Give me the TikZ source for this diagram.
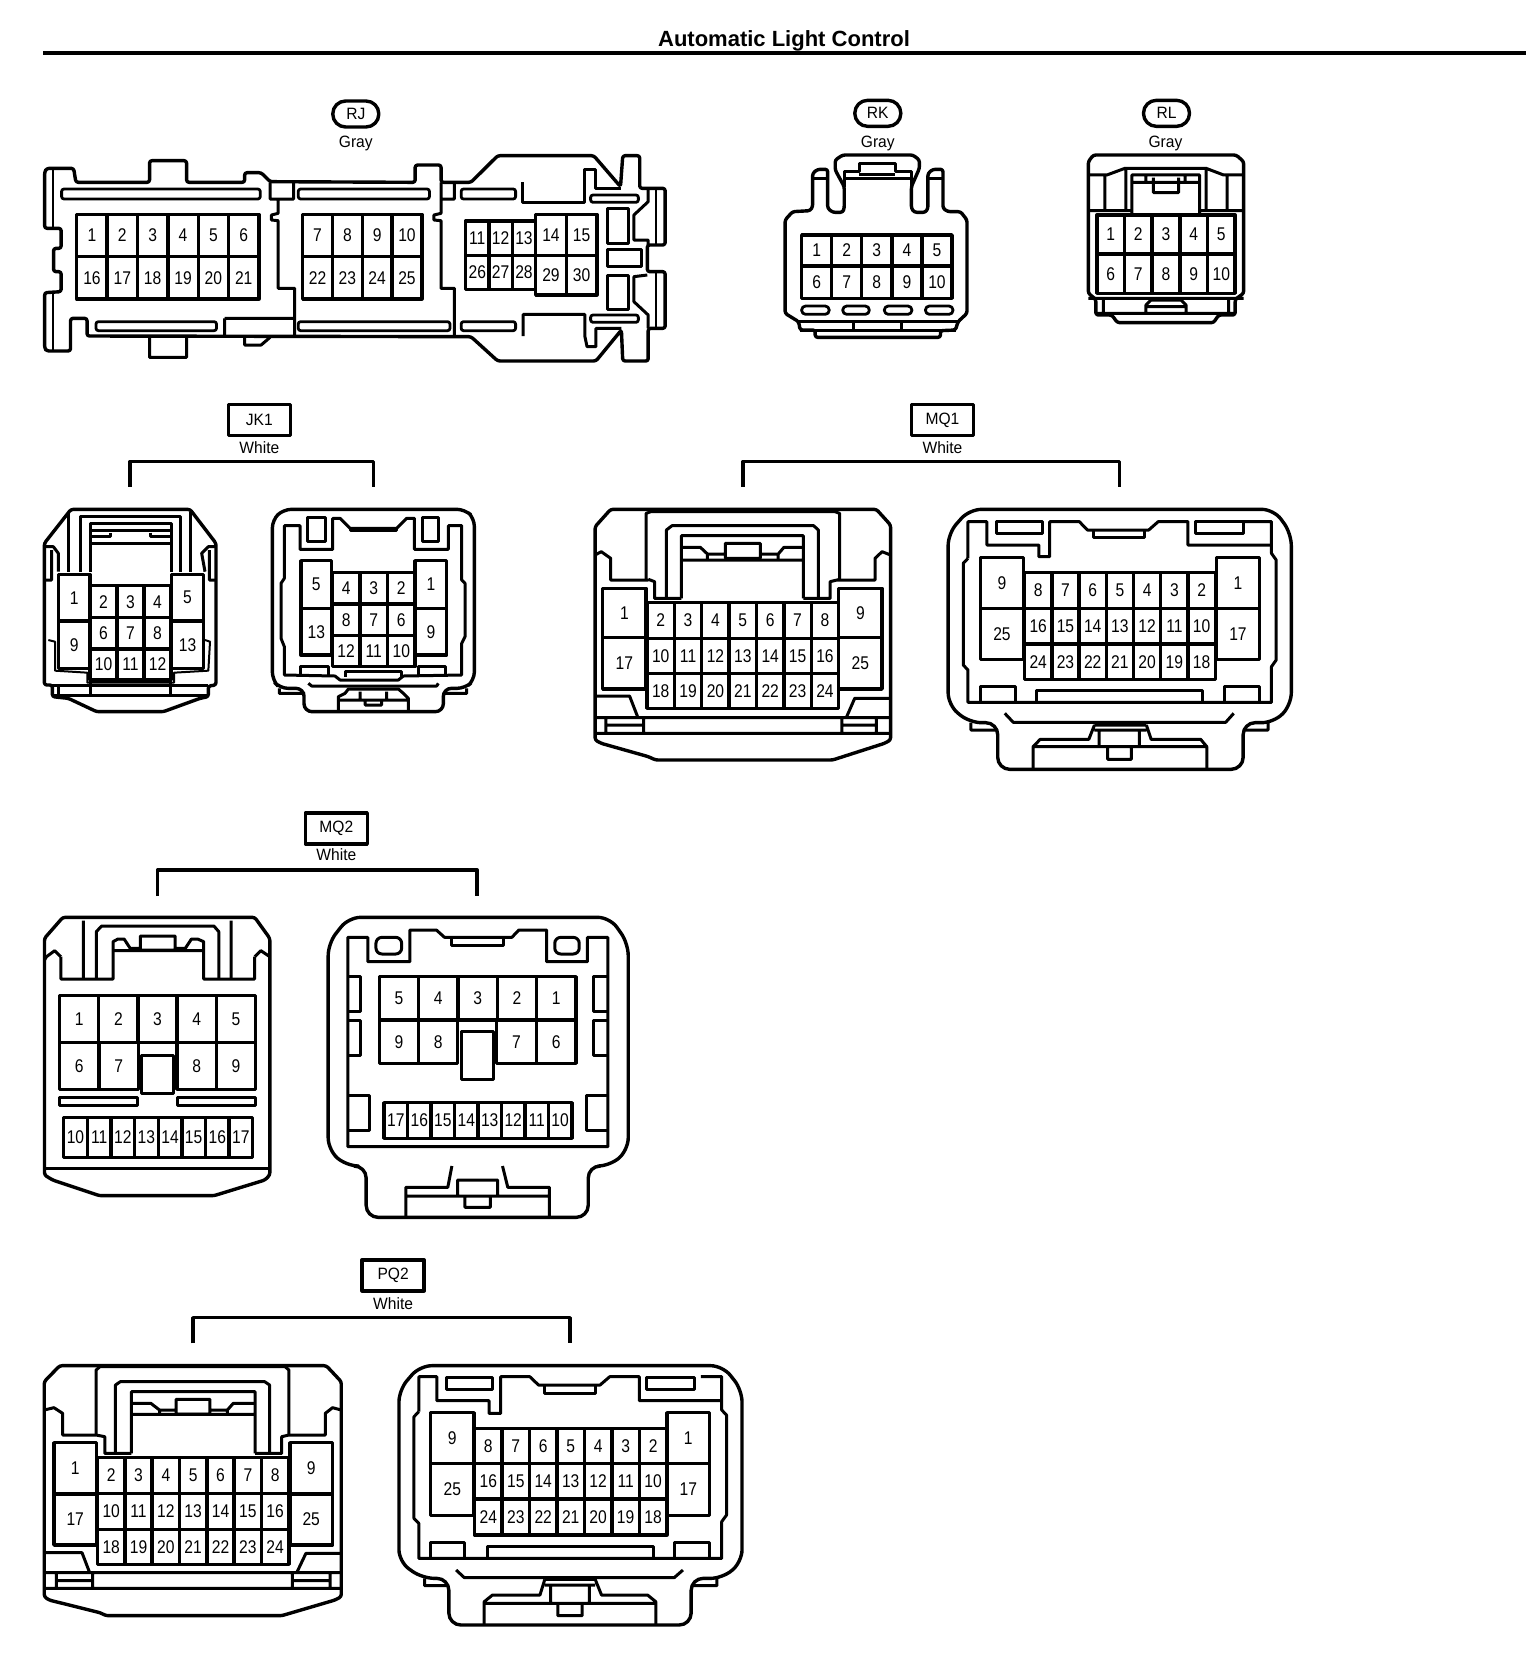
\documentclass[tikz,border=0pt]{standalone}
\usepackage{fontspec}
\setmainfont{Liberation Sans}
\newfontfamily\pinfont[FakeStretch=0.85]{Liberation Sans}
\newfontfamily\lblfont[FakeStretch=0.95]{Liberation Sans}
\tikzset{
  zoomview/.style n args={3}{shift={(#1,#2)},x=#3pt,y=-0.16667pt},
  shell/.style={line width=1.7pt,rounded corners=1.2pt},
  ln/.style={line width=1.5pt},
  thin line/.style={line width=1pt},
  cell/.style={line width=1.7pt},
  slot/.style={line width=1.4pt,rounded corners=1.2pt},
  pin/.style={font=\pinfont\fontsize{9.2}{10}\selectfont,inner sep=0pt},
  colour text/.style={font=\lblfont\fontsize{8.2}{10}\selectfont,inner sep=0pt},
  pill/.style={draw,line width=1.7pt,rounded corners=6.4pt,minimum width=23pt,minimum height=13pt,inner sep=0pt,font=\lblfont\fontsize{8.2}{10}\selectfont},
  tagbox/.style={draw,line width=1.7pt,minimum width=31pt,minimum height=15.5pt,inner sep=0pt,font=\lblfont\fontsize{8.2}{10}\selectfont},
  bracket/.style={line width=1.8pt},
}
\newcommand\rowp[6]{%
  \foreach \pl [count=\ii from 0] in {#6}{%
    \pgfmathsetmacro\xa{#4+\ii*#5}%
    \pgfmathsetmacro\xb{\xa+#5}%
    \draw[cell] (\xa,#2) rectangle (\xb,#3);
    \node[pin] (#1-\pl) at ({(\xa+\xb)/2},{(#2+#3)/2}) {\pl};
  }}
\begin{document}
\begin{tikzpicture}[x=0.5pt,y=-0.5pt,line join=round]
\useasboundingbox (0,0) rectangle (1536,1658);
\fill[white] (0,0) rectangle (1536,1658);
\node[inner sep=0pt,font=\bfseries\fontsize{11}{13}\selectfont] (title) at (784,41) {Automatic Light Control};
\coordinate (ruleL) at (43,53);
\coordinate (ruleR) at (1526,53);
\draw[line width=2.4pt] (ruleL) -- (ruleR);

% ---------- RJ
\begin{scope}[zoomview={0}{0}{.2232}]
\node[pill] (RJ) at (797,342) {RJ};
\node[colour text] (RJc) at (797,431) {Gray};
\draw[shell] (100,515)--(105,505)--(165,505)--(170,547)--(335,547)--(335,482)--(418,482)--(418,547)--(548,547)--(548,518)--(585,518)--(605,545)--(930,547)--(930,495)--(988,495)--(988,547)--(1055,547)--(1115,467)--(1330,467)--(1390,560)--(1395,467)--(1433,467)--(1433,565)--(1490,565)--(1490,735)--(1450,735)--(1450,815)--(1490,815)--(1490,985)--(1452,985)--(1452,1083)--(1395,1083)--(1392,990)--(1335,1083)--(1115,1083)--(1055,1010)--(195,1008)--(195,955)--(158,955)--(158,1053)--(105,1053)--(100,1045)--(100,878)--(137,875)--(137,815)--(120,815)--(120,745)--(137,745)--(137,685)--(100,685)--cycle;
\draw[thin line] (118,510)--(118,685) (118,880)--(118,1050) (1470,565)--(1470,735) (1470,815)--(1470,985);
\draw[ln] (335,1010)--(335,1072)--(418,1072)--(418,1010) (548,1010)--(548,1035)--(585,1035)--(605,1012);
\draw[slot] (138,567) rectangle (583,597) (668,567) rectangle (962,597) (1033,567) rectangle (1155,597) (215,965) rectangle (485,992) (668,965) rectangle (1008,992) (1033,965) rectangle (1155,992) (1323,585) rectangle (1430,607) (1323,945) rectangle (1430,967);
\draw[ln] (605,547)--(605,597)--(658,597)--(658,547) (623,597)--(623,640)--(608,645)--(608,660)--(623,662)--(623,865)--(660,865)--(660,1008) (503,955)--(660,955) (503,955)--(503,1008);
\draw[ln] (988,547)--(988,597)--(1018,597)--(1018,547) (988,597)--(988,640)--(972,645)--(972,660)--(988,662)--(988,865)--(1018,865)--(1018,1008);
\draw[ln] (1170,547)--(1170,608)--(1310,608)--(1310,507)--(1335,507)--(1335,565)--(1390,565);
\draw[ln] (1172,1008)--(1172,943)--(1310,943)--(1310,1008)--(1315,1040)--(1335,1040)--(1335,985)--(1392,985);
\draw[ln] (1360,625) rectangle (1408,730) (1360,748) rectangle (1438,800) (1360,825) rectangle (1408,928);
\draw[ln] (1452,570)--(1452,605)--(1420,645)--(1420,720)--(1452,720)--(1452,735) (1450,825)--(1420,830)--(1420,905)--(1452,945)--(1452,985);
\rowp{RJa}{643}{770}{172}{68}{1,2,3,4,5,6}
\rowp{RJa}{770}{897}{172}{68}{16,17,18,19,20,21}
\rowp{RJb}{643}{770}{678}{66.75}{7,8,9,10}
\rowp{RJb}{770}{897}{678}{66.75}{22,23,24,25}
\rowp{RJc}{663}{767}{1043}{52.3}{11,12,13}
\rowp{RJc}{767}{868}{1043}{52.3}{26,27,28}
\rowp{RJd}{643}{767}{1200}{68.5}{14,15}
\rowp{RJd}{767}{885}{1200}{68.5}{29,30}
\end{scope}

% ---------- RK
\begin{scope}[zoomview={750}{80}{.2506}]
\node[pill] (RK) at (255,100) {RK};
\node[colour text] (RKc) at (255,191) {Gray};
\draw[shell] (70,420)--(85,395)--(120,392)--(125,380)--(125,280)--(135,268)--(155,268)--(155,385)--(165,397)--(185,397)--(188,385)--(188,320)--(170,270)--(170,240)--(185,225)--(325,225)--(338,240)--(338,265)--(322,320)--(322,385)--(328,397)--(350,397)--(355,385)--(355,280)--(365,268)--(385,268)--(385,385)--(395,395)--(420,395)--(433,420)--(433,700)--(415,725)--(410,750)--(380,752)--(380,772)--(130,772)--(130,750)--(100,750)--(97,725)--(70,700)--cycle;
\draw[ln] (188,320)--(188,275)--(218,275)--(218,250)--(290,250)--(290,275)--(322,275)--(322,320) (188,297)--(322,297) (218,285)--(290,285) (125,297)--(155,297) (355,297)--(385,297);
\rowp{RKa}{465}{558}{103}{60}{1,2,3,4,5}
\rowp{RKa}{558}{655}{103}{60}{6,7,8,9,10}
\draw[slot,rounded corners=2pt] (103,678) rectangle (158,703) (185,678) rectangle (238,703) (268,678) rectangle (323,703) (350,678) rectangle (405,703);
\draw[ln] (97,725)--(415,725) (207,725)--(207,750) (302,725)--(302,750) (100,750)--(410,750);
% ---------- RL
\node[pill] (RL) at (831,100) {RL};
\node[colour text] (RLc) at (829,191) {Gray};
\draw[shell] (675,245)--(685,225)--(970,225)--(985,245)--(985,640)--(968,658)--(968,705)--(935,705)--(925,728)--(733,728)--(722,705)--(690,705)--(690,658)--(675,640)--cycle;
\draw[ln] (675,285)--(712,285)--(748,265)--(910,265)--(945,285)--(985,285) (708,290)--(708,392) (750,265)--(750,392) (952,290)--(952,392) (910,265)--(910,392) (675,392)--(762,392) (897,392)--(985,392) (762,402)--(762,285)--(897,285)--(897,402) (762,307)--(897,307) (805,293)--(805,338)--(855,338)--(855,293) (790,290)--(790,307) (868,290)--(868,307);
\rowp{RLa}{405}{522}{692}{55.2}{1,2,3,4,5}
\rowp{RLa}{522}{640}{692}{55.2}{6,7,8,9,10}
\draw[ln] (675,655)--(985,655) (705,658)--(705,705) (955,658)--(955,705) (790,700)--(790,675)--(800,660)--(860,660)--(870,675)--(870,700) (790,680)--(870,680) (690,700)--(968,700);
\end{scope}

% ---------- JK1
\begin{scope}[zoomview={0}{390}{.16667}]
\node[tagbox] (JK1) at (778,90) {JK1};
\node[colour text] (JK1c) at (778,172) {White};
\coordinate (JK1L) at (390,290); \coordinate (JK1R) at (1120,290);
\draw[bracket] (JK1L)--(390,215)--(1120,215)--(JK1R);
\draw[shell] (133,460)--(213,358)--(570,358)--(648,460)--(648,885)--(625,888)--(625,920)--(600,925)--(490,965)--(290,965)--(205,925)--(157,920)--(157,885)--(133,885)--cycle;
\draw[ln] (205,365)--(205,545) (240,545)--(240,380)--(540,380)--(540,545) (572,365)--(572,545) (270,545)--(270,400)--(515,400)--(515,545) (270,420)--(515,420) (270,440)--(330,440)--(330,428) (450,428)--(450,440)--(515,440) (270,460)--(515,460);
\draw[ln] (133,470)--(160,470)--(175,490)--(175,545) (615,545)--(605,490)--(625,470)--(648,470) (155,480)--(155,570)--(137,570) (628,480)--(628,570)--(645,570);
\draw[thin line] (145,750)--(165,755)--(165,842)--(262,848)--(262,878)--(522,878)--(522,848)--(625,842)--(630,755)--(615,750);
\rowp{JKa}{553}{693}{175}{95}{1}
\rowp{JKa}{693}{835}{175}{95}{9}
\rowp{JKa}{553}{693}{515}{95}{5}
\rowp{JKa}{693}{835}{515}{95}{13}
\rowp{JKb}{587}{683}{270}{81}{2,3,4}
\rowp{JKb}{683}{777}{270}{81}{6,7,8}
\rowp{JKb}{777}{870}{270}{81}{10,11,12}
\draw[ln] (157,885)--(625,885) (157,915)--(625,915) (175,885)--(175,915) (270,870)--(270,915) (510,870)--(510,915);
% right
\draw[shell,rounded corners=4pt] (817,390)--(850,358)--(1395,358)--(1423,385)--(1423,870)--(1395,895)--(1330,895)--(1330,965)--(912,965)--(912,895)--(840,895)--(817,870)--cycle;
\draw[ln] (853,407)--(900,407)--(900,478)--(998,478)--(998,385)--(1020,385)--(1050,415)--(1190,415)--(1220,385)--(1243,385)--(1243,478)--(1345,478)--(1345,407)--(1385,407)--(1385,570)--(1395,580)--(1395,740)--(1385,760)--(1385,855)--(1210,858)--(1195,870)--(1020,870)--(1005,858)--(853,855)--(853,770)--(843,745)--(843,580)--(853,565)--cycle;
\draw[ln] (1050,415)--(1050,420)--(1190,420)--(1190,415);
\draw[ln] (922,382) rectangle (975,455) (1267,382) rectangle (1315,455);
\rowp{JKc}{512}{655}{903}{92}{5}
\rowp{JKc}{655}{795}{903}{92}{13}
\rowp{JKc}{512}{655}{1245}{95}{1}
\rowp{JKc}{655}{795}{1245}{95}{9}
\rowp{JKd}{548}{642}{997}{82.7}{4,3,2}
\rowp{JKd}{642}{737}{997}{82.7}{8,7,6}
\rowp{JKd}{737}{830}{997}{82.7}{12,11,10}
\draw[ln] (900,855)--(900,830)--(985,830)--(985,855) (1255,855)--(1255,830)--(1335,830)--(1335,855) (1035,860)--(1035,845)--(1205,845)--(1205,860);
\draw[ln] (925,880)--(935,888)--(1310,888)--(1315,880) (838,895)--(838,910)--(915,910) (1330,910)--(1400,910)--(1400,895);
\draw[ln] (1015,965)--(1015,920)--(1035,910)--(1045,897)--(1195,897)--(1210,910)--(1225,925)--(1225,965) (1015,930)--(1225,930) (1080,905)--(1080,930) (1160,905)--(1160,930) (1095,930)--(1095,945)--(1145,945)--(1145,930);
\end{scope}

% ---------- MQ1
\begin{scope}[zoomview={580}{390}{.2360}]
\node[tagbox] (MQ1) at (768,90) {MQ1};
\node[colour text] (MQ1c) at (768,172) {White};
\coordinate (MQ1L) at (345,290); \coordinate (MQ1R) at (1143,290);
\draw[bracket] (MQ1L)--(345,215)--(1143,215)--(MQ1R);
\draw[shell] (32,410)--(65,358)--(628,358)--(658,405)--(658,1050)--(645,1060)--(535,1110)--(160,1110)--(145,1100)--(45,1060)--(32,1050)--cycle;
\draw[ln] (140,568)--(140,370)--(150,365)--(540,365)--(550,370)--(550,568) (183,625)--(183,420)--(195,407)--(495,407)--(505,420)--(505,625) (215,625)--(215,437)--(473,437)--(473,625) (215,510)--(473,510);
\draw[ln] (215,472)--(255,472)--(270,492)--(308,492) (308,460) rectangle (382,505) (382,492)--(420,492)--(432,472)--(473,472) (270,492)--(270,508) (420,492)--(420,508);
\draw[ln] (145,570)--(65,570)--(65,505)--(45,485)--(32,495) (545,570)--(625,570)--(625,505)--(640,485)--(658,495) (145,568)--(158,575)--(158,625)--(215,625) (473,625)--(530,625)--(530,575)--(550,568);
\rowp{MQa}{595}{742}{48}{92}{1}
\rowp{MQa}{742}{897}{48}{92}{17}
\rowp{MQa}{595}{742}{548}{92}{9}
\rowp{MQa}{742}{897}{548}{92}{25}
\rowp{MQb}{638}{745}{142}{58}{2,3,4,5,6,7,8}
\rowp{MQb}{745}{850}{142}{58}{10,11,12,13,14,15,16}
\rowp{MQb}{850}{955}{142}{58}{18,19,20,21,22,23,24}
\draw[ln] (32,918)--(105,918)--(122,980) (658,925)--(582,925)--(565,980) (32,983)--(658,983) (32,1030)--(658,1030) (135,983)--(135,1030) (555,983)--(555,1030) (55,985)--(55,1025) (628,985)--(628,1025) (55,1005)--(135,1005) (555,1005)--(630,1005);
% right
\draw[shell,rounded corners=6pt] (780,430)--(825,358)--(1470,358)--(1507,430)--(1507,945)--(1470,998)--(1405,998)--(1405,1138)--(885,1138)--(885,998)--(825,998)--(780,945)--cycle;
\draw[ln] (822,505)--(822,395)--(862,395)--(862,465)--(972,465)--(972,500)--(995,500)--(995,395)--(1058,395)--(1075,420)--(1205,420)--(1225,395)--(1288,395)--(1288,465)--(1465,465);
\draw[ln] (1405,395)--(1465,395)--(1465,490)--(1475,510)--(1475,810)--(1465,830)--(1465,937)--(822,937)--(822,840)--(812,825)--(812,520)--(822,505);
\draw[ln] (882,395) rectangle (980,430) (1305,395) rectangle (1405,430) (1088,420)--(1088,442)--(1197,442)--(1197,420);
\rowp{MQc}{503}{655}{848}{92}{9}
\rowp{MQc}{655}{808}{848}{92}{25}
\rowp{MQc}{503}{655}{1348}{92}{1}
\rowp{MQc}{655}{808}{1348}{92}{17}
\rowp{MQd}{548}{655}{942}{57.7}{8,7,6,5,4,3,2}
\rowp{MQd}{655}{762}{942}{57.7}{16,15,14,13,12,11,10}
\rowp{MQd}{762}{868}{942}{57.7}{24,23,22,21,20,19,18}
\draw[ln] (848,937)--(848,890)--(922,890)--(922,937) (968,937)--(968,902)--(1318,902)--(1318,937) (1365,937)--(1365,890)--(1440,890)--(1440,937);
\draw[ln] (900,970)--(918,997)--(1368,997)--(1385,970) (828,998)--(828,1020)--(885,1020) (1405,1020)--(1458,1020)--(1458,998);
\draw[ln] (1090,1005)--(1200,1005) (1090,1005)--(1078,1048)--(975,1048)--(960,1070)--(960,1135) (1200,1005)--(1210,1048)--(1315,1048)--(1328,1070)--(1328,1135) (960,1070)--(1328,1070) (1100,1020)--(1100,1070) (1185,1020)--(1185,1070) (1090,1020)--(1200,1020) (1118,1070)--(1118,1108)--(1168,1108)--(1168,1070);
\end{scope}

% ---------- MQ2
\begin{scope}[zoomview={20}{800}{.2041}]
\node[tagbox] (MQ2) at (775,85) {MQ2};
\node[colour text] (MQ2c) at (775,165) {White};
\coordinate (MQ2L) at (337,288); \coordinate (MQ2R) at (1120,288);
\draw[bracket] (MQ2L)--(337,210)--(1120,210)--(MQ2R);
\draw[shell] (60,415)--(105,352)--(575,352)--(612,415)--(612,1125)--(600,1140)--(475,1187)--(195,1187)--(80,1140)--(60,1125)--cycle;
\draw[ln] (155,362)--(155,537) (517,362)--(517,537) (187,537)--(187,395)--(200,378)--(475,378)--(487,395)--(487,537);
\draw[ln] (100,470)--(100,537)--(228,537)--(228,425)--(240,417)--(255,417)--(270,445)--(295,445) (295,408) rectangle (380,450) (380,445)--(405,445)--(420,417)--(435,417)--(450,425)--(450,537)--(575,537)--(575,470);
\draw[ln] (100,470)--(85,452)--(65,470)--(60,480) (575,470)--(590,452)--(612,470) (228,452)--(450,452);
\rowp{MPa}{587}{727}{97}{96}{1,2,3,4,5}
\rowp{MPb}{727}{868}{97}{96.5}{6,7}
\rowp{MPb}{727}{868}{385}{96}{8,9}
\draw[ln] (297,765) rectangle (377,880) (97,892) rectangle (288,917) (385,892) rectangle (577,917);
\rowp{MPc}{952}{1073}{107}{57.9}{10,11,12,13,14,15,16,17}
\draw[ln] (60,1105)--(612,1105);
% right
\draw[shell,rounded corners=6pt] (755,430)--(805,352)--(1445,352)--(1490,430)--(1490,1050)--(1445,1098)--(1392,1098)--(1392,1252)--(848,1252)--(848,1098)--(800,1098)--(755,1050)--cycle;
\draw[ln] (803,1040)--(803,412)--(852,412)--(852,485)--(955,485)--(955,390)--(1020,390)--(1040,412)--(1205,412)--(1222,390)--(1290,390)--(1290,485)--(1390,485)--(1390,412)--(1440,412)--(1440,1040)--cycle;
\draw[ln] (1058,412)--(1058,435)--(1185,435)--(1185,412);
\draw[ln,rounded corners=3pt] (872,412) rectangle (935,462) (1310,412) rectangle (1370,462);
\draw[ln] (805,530)--(835,530)--(835,635)--(805,635) (805,660)--(835,660)--(835,765)--(805,765) (1438,530)--(1405,530)--(1405,635)--(1438,635) (1438,660)--(1405,660)--(1405,765)--(1438,765) (805,887)--(855,887)--(855,990)--(805,990) (1438,887)--(1388,887)--(1388,990)--(1438,990);
\rowp{MPd}{530}{660}{880}{96.4}{5,4,3,2,1}
\rowp{MPe}{660}{790}{880}{96.2}{9,8}
\rowp{MPe}{660}{790}{1168}{97}{7,6}
\draw[ln] (1082,695) rectangle (1160,838);
\rowp{MPf}{908}{1015}{892}{57.5}{17,16,15,14,13,12,11,10}
\draw[ln] (1058,1098)--(1048,1162)--(945,1162)--(945,1248) (1182,1098)--(1195,1162)--(1297,1162)--(1297,1248) (945,1188)--(1297,1188) (1072,1188)--(1072,1140)--(1170,1140)--(1170,1188) (1090,1188)--(1090,1222)--(1152,1222)--(1152,1188);
\end{scope}

% ---------- PQ2
\begin{scope}[zoomview={20}{1240}{.2423}]
\node[tagbox] (PQ2) at (770,106) {PQ2};
\node[colour text] (PQ2c) at (770,190) {White};
\coordinate (PQ2L) at (357,310); \coordinate (PQ2R) at (1135,310);
\draw[bracket] (PQ2L)--(357,233)--(1135,233)--(PQ2R);
\draw[shell] (50,425)--(82,377)--(632,377)--(663,425)--(663,1070)--(650,1080)--(540,1127)--(178,1127)--(165,1118)--(60,1080)--(50,1070)--cycle;
\draw[ln] (157,585)--(157,390)--(165,380)--(547,380)--(555,390)--(555,585) (197,640)--(197,435)--(207,425)--(505,425)--(515,435)--(515,640) (230,640)--(230,455)--(485,455)--(485,640) (230,523)--(485,523);
\draw[ln] (230,490)--(270,490)--(288,510)--(322,510) (322,478) rectangle (392,522) (392,510)--(428,510)--(440,490)--(485,490) (288,510)--(288,522) (428,510)--(428,522);
\draw[ln] (157,585)--(88,585)--(88,520)--(70,503)--(50,510) (555,585)--(630,585)--(630,520)--(645,503)--(663,510) (157,585)--(175,590)--(175,640)--(230,640) (485,640)--(540,640)--(540,590)--(555,585);
\rowp{PQa}{608}{762}{70}{88}{1}
\rowp{PQa}{762}{915}{70}{88}{17}
\rowp{PQa}{608}{762}{557}{88}{9}
\rowp{PQa}{762}{915}{557}{88}{25}
\rowp{PQb}{652}{760}{160}{56.4}{2,3,4,5,6,7,8}
\rowp{PQb}{760}{868}{160}{56.4}{10,11,12,13,14,15,16}
\rowp{PQb}{868}{973}{160}{56.4}{18,19,20,21,22,23,24}
\draw[ln] (50,938)--(128,938)--(143,995) (663,940)--(590,940)--(572,995) (50,998)--(663,998) (50,1045)--(663,1045) (150,998)--(150,1045) (562,998)--(562,1045) (75,1000)--(75,1042) (640,1000)--(640,1042) (75,1022)--(150,1022) (562,1022)--(640,1022);
% right
\draw[shell,rounded corners=6pt] (782,450)--(825,377)--(1450,377)--(1490,450)--(1490,965)--(1450,1015)--(1385,1015)--(1385,1155)--(885,1155)--(885,1015)--(830,1015)--(782,965)--cycle;
\draw[ln] (823,515)--(823,410)--(860,410)--(860,482)--(968,482)--(968,520)--(992,520)--(992,410)--(1052,410)--(1070,435)--(1197,435)--(1217,410)--(1278,410)--(1278,482)--(1448,482);
\draw[ln] (1405,410)--(1448,410)--(1448,510)--(1458,525)--(1458,825)--(1448,845)--(1448,955)--(823,955)--(823,850)--(813,835)--(813,530)--(823,515);
\draw[ln] (880,412) rectangle (975,447) (1292,412) rectangle (1392,447) (1082,435)--(1082,460)--(1187,460)--(1187,435);
\rowp{PQc}{518}{670}{847}{90}{9}
\rowp{PQc}{670}{827}{847}{90}{25}
\rowp{PQc}{518}{670}{1335}{88}{1}
\rowp{PQc}{670}{827}{1335}{88}{17}
\rowp{PQd}{565}{670}{938}{56.7}{8,7,6,5,4,3,2}
\rowp{PQd}{670}{777}{938}{56.7}{16,15,14,13,12,11,10}
\rowp{PQd}{777}{885}{938}{56.7}{24,23,22,21,20,19,18}
\draw[ln] (847,955)--(847,907)--(918,907)--(918,955) (965,955)--(965,918)--(1307,918)--(1307,955) (1350,955)--(1350,907)--(1423,907)--(1423,955);
\draw[ln] (900,990)--(917,1013)--(1350,1013)--(1368,990) (835,1015)--(835,1037)--(885,1037) (1385,1037)--(1438,1037)--(1438,1015);
\draw[ln] (1083,1018)--(1187,1018) (1083,1018)--(1073,1065)--(975,1065)--(958,1085)--(958,1152) (1187,1018)--(1200,1065)--(1295,1065)--(1312,1085)--(1312,1152) (958,1090)--(1312,1090) (1095,1040)--(1095,1090) (1175,1040)--(1175,1090) (1083,1035)--(1187,1035) (1110,1090)--(1110,1127)--(1160,1127)--(1160,1090);
\end{scope}
\end{tikzpicture}
\end{document}
